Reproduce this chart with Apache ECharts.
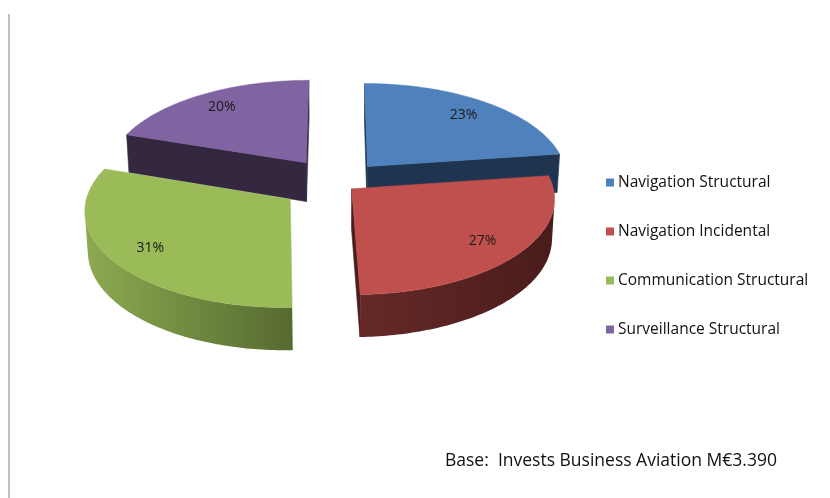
<!DOCTYPE html>
<html>
<head>
<meta charset="utf-8">
<script src="https://cdn.jsdelivr.net/npm/echarts@6.0.0/dist/echarts.min.js"></script>
<style>
  html, body { margin: 0; padding: 0; background: #ffffff; }
  #chart { width: 830px; height: 498px; }
</style>
</head>
<body>
<div id="chart"></div>
<script>
// ---- data ----
const categories = ['Navigation Structural', 'Navigation Incidental', 'Communication Structural', 'Surveillance Structural'];
const shares = [23, 27, 31, 20];
const footnote = 'Base:  Invests Business Aviation M\u20ac3.390';

// ---- styling ----
const FONT = '"Open Sans", "Noto Sans", sans-serif';
const topColors = ['#4F81BD', '#C0504D', '#9BBB59', '#8064A2'];
const sideColors = [
  ['#2A4566', '#1F344F'],
  ['#652927', '#4A1C1C'],
  ['#8DAA50', '#566A30'],
  ['#3A2C47', '#342740']
];
const explode = [0.235, 0.095, 0.285, 0.27];   // slice pull-out, in radius units
const drawOrder = [3, 0, 1, 2];                  // far slices first

// simple perspective camera looking down at the pie
const CX = 337, CY = 183, F = 1805, D = 9, SIN = 0.47, COS = Math.sqrt(1 - SIN * SIN), THICK = 0.225;
function project(X, Z, H) {
  const depth = D + Z * COS - H * SIN;
  return [CX + F * X / depth, CY - F * (H * COS + Z * SIN) / depth];
}
function signedArea(pts) {
  let s = 0;
  for (let k = 0; k < pts.length; k++) {
    const p = pts[k], q = pts[(k + 1) % pts.length];
    s += p[0] * q[1] - q[0] * p[1];
  }
  return s;
}

const total = shares.reduce((a, b) => a + b, 0);

function renderSlice(i) {
  return function (params, api) {
    let acc = 0;
    for (let k = 0; k < i; k++) acc += shares[k];
    const v = api.value(0);
    const a0 = acc / total * 2 * Math.PI;
    const a1 = (acc + v) / total * 2 * Math.PI;
    const mid = (a0 + a1) / 2;
    const ox = explode[i] * Math.sin(mid), oz = explode[i] * Math.cos(mid);
    const P = (r, a, h) => project(ox + r * Math.sin(a), oz + r * Math.cos(a), h);

    const steps = Math.max(12, Math.ceil((a1 - a0) / (Math.PI / 180)));
    const rimTop = [], rimBot = [];
    for (let s = 0; s <= steps; s++) {
      const a = a0 + (a1 - a0) * s / steps;
      rimTop.push(P(1, a, 0));
      rimBot.push(P(1, a, -THICK));
    }
    const cTop = P(0, 0, 0), cBot = P(0, 0, -THICK);
    const children = [];

    // cut faces
    const startFace = [cTop, rimTop[0], rimBot[0], cBot];
    const endFace = [rimTop[steps], cTop, cBot, rimBot[steps]];
    [startFace, endFace].forEach(f => {
      if (signedArea(f) < -1e-6) {
        children.push({ type: 'polygon', shape: { points: f },
          style: { fill: sideColors[i][1], stroke: sideColors[i][1], lineWidth: 0.6 } });
      }
    });

    // outer rim, visible runs only
    const grad = { type: 'linear', x: 0, y: 0, x2: 1, y2: 0,
      colorStops: [{ offset: 0, color: sideColors[i][0] }, { offset: 1, color: sideColors[i][1] }] };
    let run = null;
    const flush = () => {
      if (run && run.length > 1) {
        const pts = run.map(k => rimTop[k]).concat(run.slice().reverse().map(k => rimBot[k]));
        children.push({ type: 'polygon', shape: { points: pts }, style: { fill: grad } });
      }
      run = null;
    };
    for (let s = 0; s < steps; s++) {
      const q = [rimTop[s], rimTop[s + 1], rimBot[s + 1], rimBot[s]];
      if (signedArea(q) < 0) {
        if (!run) run = [s];
        run.push(s + 1);
      } else {
        flush();
      }
    }
    flush();

    // top face
    children.push({ type: 'polygon', shape: { points: [cTop].concat(rimTop) },
      style: { fill: topColors[i], stroke: topColors[i], lineWidth: 0.5 } });

    // value label
    const lp = P(0.8, mid, 0);
    children.push({ type: 'text', x: lp[0], y: lp[1],
      style: { text: v + '%', fill: '#1a1a1a', font: '14px ' + FONT, align: 'center', verticalAlign: 'middle' } });

    return { type: 'group', children: children };
  };
}

const chart = echarts.init(document.getElementById('chart'), null, { renderer: 'canvas' });
chart.setOption({
  animation: false,
  backgroundColor: '#ffffff',
  legend: {
    data: categories,
    orient: 'vertical',
    left: 606,
    top: 174.5,
    padding: 0,
    icon: 'rect',
    itemWidth: 8,
    itemHeight: 8,
    itemGap: 33,
    textStyle: { fontFamily: FONT, fontSize: 15.5, color: '#111', lineHeight: 16, padding: [0, 0, 0, -1] },
    selectedMode: false
  },
  graphic: [
    { type: 'line', shape: { x1: 9, y1: 14, x2: 9, y2: 498 }, style: { stroke: '#ababab', lineWidth: 1.5 } },
    { type: 'text', left: 445, top: 452, style: { text: footnote, fill: '#111', font: '17.5px ' + FONT } }
  ],
  series: drawOrder.map(i => ({
    type: 'custom',
    name: categories[i],
    coordinateSystem: 'none',
    renderItem: renderSlice(i),
    data: [[shares[i]]],
    itemStyle: { color: topColors[i] },
    silent: true
  }))
});
</script>
</body>
</html>
